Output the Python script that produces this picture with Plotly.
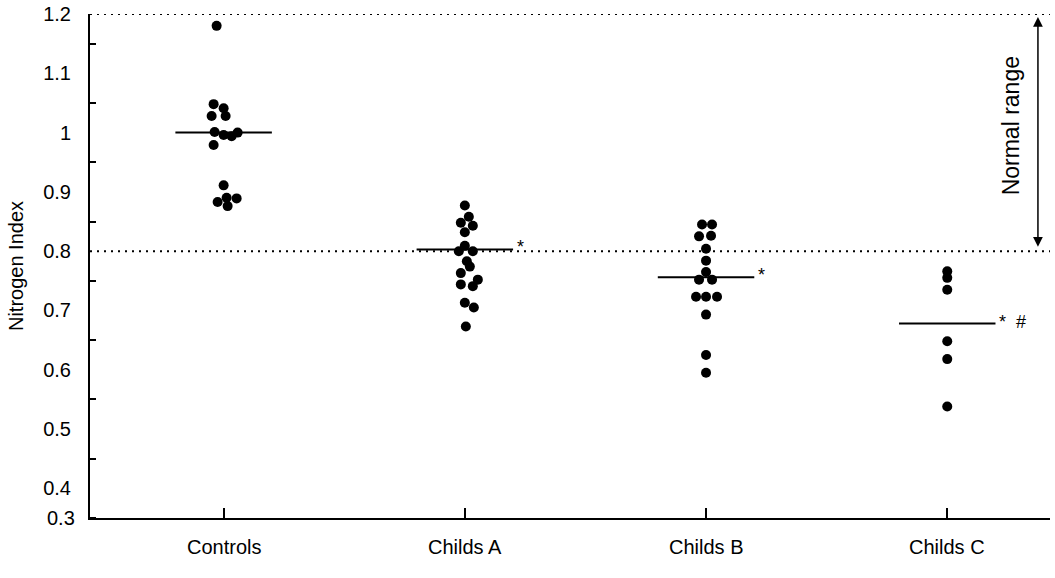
import plotly.graph_objects as go

# ---------------- data ----------------
categories = ["Controls", "Childs A", "Childs B", "Childs C"]

controls = [1.180, 1.048, 1.041, 1.028, 1.028, 1.001, 0.996, 0.994, 1.000,
            0.979, 0.911, 0.883, 0.890, 0.889, 0.876]
childs_a = [0.877, 0.858, 0.848, 0.843, 0.832, 0.809, 0.800, 0.800, 0.783,
            0.774, 0.763, 0.752, 0.744, 0.741, 0.713, 0.705, 0.673]
childs_b = [0.845, 0.845, 0.825, 0.826, 0.804, 0.784, 0.765, 0.752, 0.752,
            0.723, 0.723, 0.723, 0.693, 0.625, 0.595]
childs_c = [0.766, 0.755, 0.735, 0.648, 0.618, 0.538]

group_means = [1.000, 0.803, 0.756, 0.678]
significance = ["", "*", "*", "*  #"]
normal_low = 0.80
normal_high = 1.20
y_tick_values = [0.4, 0.5, 0.6, 0.7, 0.8, 0.9, 1.0, 1.1, 1.2]
y_tick_labels = ["0.4", "0.5", "0.6", "0.7", "0.8", "0.9", "1", "1.1", "1.2"]
y_axis_origin_label = "0.3"
y_axis_title = "Nitrogen Index"
range_label = "Normal range"

# ---------------- layout helpers (placement only) ----------------
groups = [controls, childs_a, childs_b, childs_c]
# horizontal spread of the dots inside each column, in pixels
spread_px = [
    [-7, -10, 0, -12, 2, -9, 0, 8, 14, -10, 0, -6, 3, 13, 4],
    [0, 4, -4, 8, 0, 0, -6, 8, 2, 5, -4, 13, -4, 8, 0, 9, 1],
    [-4, 6, -7, 5, 0, 0, 0, -7, 6, -10, 0, 11, 0, 0, 0],
    [0, 0, 0, 0, 0, 0],
]
PX_PER_UNIT = 241.2
X_RANGE = [-0.554, 3.426]
Y_RANGE = [0.35, 1.2]
MEAN_HALF = 0.2
FONT = "Liberation Sans, Arial, sans-serif"

fig = go.Figure()

for i, (vals, offs) in enumerate(zip(groups, spread_px)):
    fig.add_trace(go.Scatter(
        x=[i + o / PX_PER_UNIT for o in offs],
        y=vals,
        mode="markers",
        marker=dict(color="black", size=10, line=dict(width=0)),
        name=categories[i],
        showlegend=False,
        hoverinfo="y",
    ))

shapes = []
annotations = []

# normal range dotted lines
for yv in (normal_low, normal_high):
    shapes.append(dict(type="line", xref="paper", x0=0, x1=1, yref="y", y0=yv, y1=yv,
                       line=dict(color="black", width=2, dash="2px,5px")))

# group mean lines and significance marks
for i, m in enumerate(group_means):
    shapes.append(dict(type="line", xref="x", x0=i - MEAN_HALF, x1=i + MEAN_HALF,
                       yref="y", y0=m, y1=m, line=dict(color="black", width=2)))
    if significance[i]:
        annotations.append(dict(x=i + MEAN_HALF, y=m, xref="x", yref="y",
                                text=significance[i], showarrow=False,
                                xanchor="left", yanchor="middle", xshift=2, yshift=2,
                                font=dict(size=18, color="black", family=FONT)))

# category labels under the axis
for i, name in enumerate(categories):
    annotations.append(dict(x=i, y=0, xref="x", yref="paper", text=name,
                            showarrow=False, xanchor="center", yanchor="middle",
                            yshift=-29, font=dict(size=20, color="black", family=FONT)))

# label at the axis origin
annotations.append(dict(x=0, y=0, xref="paper", yref="paper", text=y_axis_origin_label,
                        showarrow=False, xanchor="right", yanchor="middle", xshift=-13,
                        font=dict(size=20, color="black", family=FONT)))

# normal range arrow
arrow_x = 3.376
annotations.append(dict(x=arrow_x, y=normal_high - 0.005, ax=arrow_x, ay=normal_low + 0.005,
                        xref="x", yref="y", axref="x", ayref="y", text="",
                        showarrow=True, arrowhead=2, arrowside="end+start",
                        arrowsize=1.3, arrowwidth=1.5, arrowcolor="black"))
annotations.append(dict(x=3.268, y=(normal_low + normal_high) / 2 + 0.012, xref="x", yref="y",
                        text=range_label, textangle=-90, showarrow=False,
                        font=dict(size=23, color="black", family=FONT)))

fig.update_layout(
    width=1055, height=578,
    margin=dict(l=90, r=5, t=14, b=60),
    paper_bgcolor="white", plot_bgcolor="white",
    font=dict(family=FONT, size=20, color="black"),
    shapes=shapes, annotations=annotations,
    xaxis=dict(range=X_RANGE, tickvals=list(range(len(categories))),
               showticklabels=False,
               ticks="inside", ticklen=10, tickwidth=1.5, tickcolor="black",
               showline=True, linecolor="black", linewidth=2, showgrid=False,
               zeroline=False, automargin=False),
    yaxis=dict(range=Y_RANGE, tickvals=y_tick_values, ticktext=y_tick_labels,
               ticks="", showline=True, linecolor="black", linewidth=2, showgrid=False,
               zeroline=False, ticklabelstandoff=13, automargin=False,
               minor=dict(ticks="inside", tick0=0.35, dtick=0.1, ticklen=6,
                          tickwidth=1.5, tickcolor="black", showgrid=False),
               title=dict(text=y_axis_title, standoff=14,
                          font=dict(size=20))),
)

fig.write_html("out.html", config={"displayModeBar": False},
               post_script="document.body.style.margin='0px';")
